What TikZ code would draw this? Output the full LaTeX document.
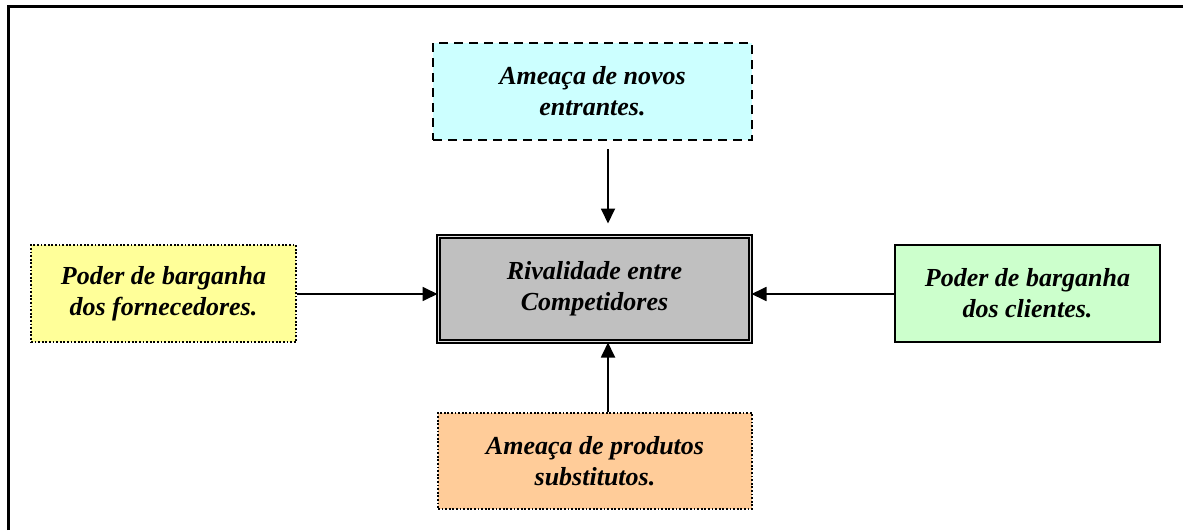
\documentclass[tikz,border=0pt]{standalone}
\usepackage{fontspec}
\setmainfont{Liberation Serif}
\usetikzlibrary{positioning,arrows.meta}

\definecolor{entrantcol}{HTML}{CCFFFF}
\definecolor{rivalcol}{HTML}{C0C0C0}
\definecolor{supplycol}{HTML}{FFFF99}
\definecolor{clientcol}{HTML}{CCFFCC}
\definecolor{substcol}{HTML}{FFCC99}

\begin{document}
\begin{tikzpicture}[x=0.5pt,y=-0.5pt,
        force/.style={align=center,inner sep=0pt,
          font=\bfseries\itshape\fontsize{13}{15.5}\selectfont},
        arr/.style={-{Triangle[width=7pt,length=7.5pt]},line width=0.9pt}]
        \useasboundingbox (0,0) rectangle (1183,530);
        \draw[line width=1.5pt] (8,530) -- (8,6) -- (1183,6);

        \node[force,draw,line width=1pt,dash pattern=on 4.5pt off 3pt,fill=entrantcol,
          minimum width=159.5pt,minimum height=48.5pt] at (592.5,91.5) (T)
          {Ameaça de novos\\entrantes.};
        \node[force,draw,line width=1pt,double=black!12,double distance=0.8pt,fill=rivalcol,
          minimum width=156pt,minimum height=52.5pt] at (594.5,289) (C)
          {Rivalidade entre\\Competidores};
        \node[force,draw,line width=0.8pt,dash pattern=on 0.9pt off 0.9pt,fill=supplycol,
          minimum width=132.5pt,minimum height=48.5pt] at (163.5,293.5) (L)
          {Poder de barganha\\dos fornecedores.};
        \node[force,draw,line width=0.9pt,fill=clientcol,
          minimum width=132.5pt,minimum height=48.5pt] at (1027.5,293.5) (R)
          {Poder de barganha\\dos clientes.};
        \node[force,draw,line width=0.8pt,dash pattern=on 0.9pt off 0.9pt,fill=substcol,
          minimum width=157pt,minimum height=48pt] at (595,461) (B)
          {Ameaça de produtos\\substitutos.};

        \coordinate (ax) at (608,0);
        \coordinate (ay) at (0,294);
        \draw[arr,shorten <=4pt,shorten >=6pt] (T.south -| ax) -- (C.north -| ax);
        \draw[arr] (B.north -| ax) -- (C.south -| ax);
        \draw[arr] (L.east |- ay) -- (C.west |- ay);
        \draw[arr] (R.west |- ay) -- (C.east |- ay);
      \end{tikzpicture}
\end{document}
